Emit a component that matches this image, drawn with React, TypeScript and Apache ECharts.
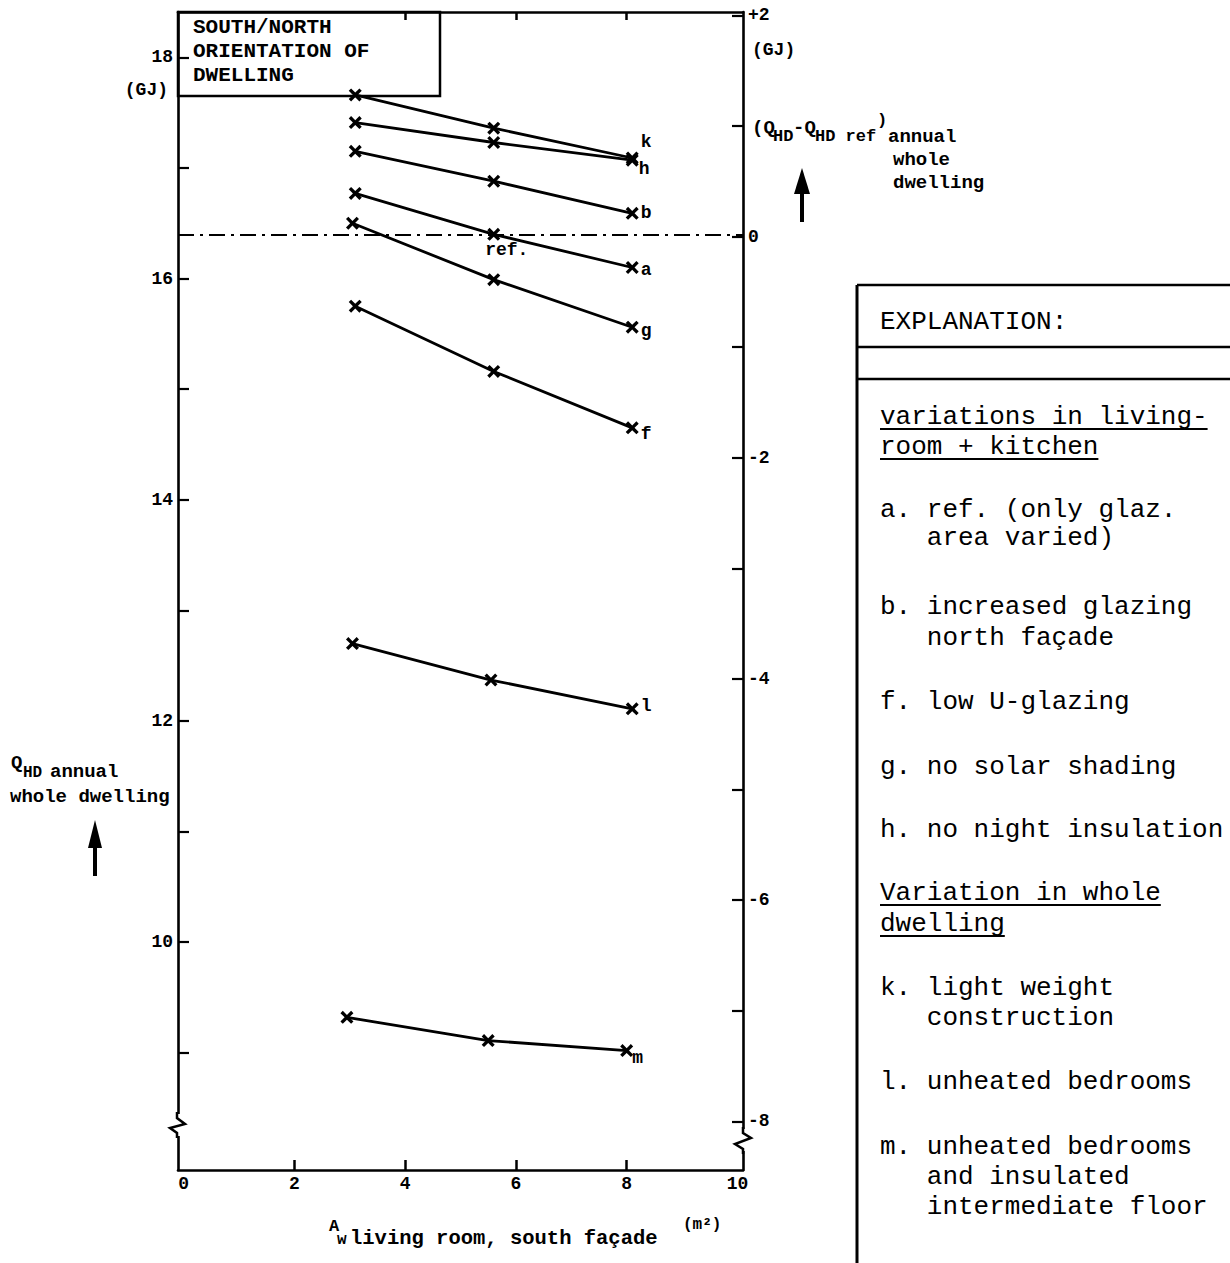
import React, { useEffect, useRef } from 'react';
import * as echarts from 'echarts';

// ---------- data ----------
const X_LABELS = [0, 2, 4, 6, 8, 10];
const X_TOP_TICKS = [4, 6, 8];
const X_BOTTOM_TICKS = [2, 4, 6, 8];
const LEFT_TICKS = [9, 10, 11, 12, 13, 14, 15, 16, 17, 18];
const LEFT_LABELS = [10, 12, 14, 16, 18];
const RIGHT_TICKS = [-8, -7, -6, -5, -4, -3, -2, -1, 0, 1, 2];
const RIGHT_LABELS = [-8, -6, -4, -2, 0, 2];

const AREA_MAIN = [3.1, 5.6, 8.1];
const AREA_G = [3.05, 5.6, 8.1];
const AREA_L = [3.05, 5.55, 8.1];
const AREA_M = [2.95, 5.5, 8.0];

const Q_K = [17.66, 17.36, 17.09];
const Q_H = [17.41, 17.23, 17.07];
const Q_B = [17.15, 16.88, 16.59];
const Q_A = [16.77, 16.4, 16.1];
const Q_G = [16.5, 15.99, 15.56];
const Q_F = [15.75, 15.16, 14.65];
const Q_L = [12.7, 12.37, 12.11];
const Q_M = [9.32, 9.11, 9.02];

const EXPLANATION_LINES = [
  'variations in living-',
  'room + kitchen',
  'a. ref. (only glaz.',
  'area varied)',
  'b. increased glazing',
  'north façade',
  'f. low U-glazing',
  'g. no solar shading',
  'h. no night insulation',
  'Variation in whole',
  'dwelling',
  'k. light weight',
  'construction',
  'l. unheated bedrooms',
  'm. unheated bedrooms',
  'and insulated',
  'intermediate floor',
];

// ---------- styling ----------
const MONO = '"Liberation Mono", "DejaVu Sans Mono", monospace';
const BLACK = '#000';
const CROSS = 'path://M0,1.8L1.8,0L5,3.2L8.2,0L10,1.8L6.8,5L10,8.2L8.2,10L5,6.8L1.8,10L0,8.2L3.2,5Z';

function txt(x: number, y: number, text: string, size: number, weight: string = 'bold', align: string = 'left') {
  return {
    type: 'text',
    x,
    y,
    z: 50,
    silent: true,
    style: {
      text,
      fill: BLACK,
      fontFamily: MONO,
      fontSize: size,
      fontWeight: weight,
      textAlign: align,
      align,
      textVerticalAlign: 'middle',
      verticalAlign: 'middle',
    },
  };
}

function line(x1: number, y1: number, x2: number, y2: number, w = 2.5) {
  return {
    type: 'line',
    z: 50,
    silent: true,
    shape: { x1, y1, x2, y2 },
    style: { stroke: BLACK, lineWidth: w },
  };
}

function arrowUp(cx: number, tip: number, baseY: number, bottom: number, half: number) {
  return [
    line(cx, baseY - 2, cx, bottom, 4),
    {
      type: 'polygon',
      z: 50,
      silent: true,
      shape: { points: [[cx, tip], [cx - half, baseY], [cx + half, baseY]] },
      style: { fill: BLACK },
    },
  ];
}

function makeSeries(
  name: string,
  xs: number[],
  ys: number[],
  offset: number[],
  extra: any = {}
) {
  return {
    name,
    type: 'line',
    yAxisIndex: 0,
    data: xs.map((x, i) => [x, ys[i]]),
    symbol: CROSS,
    symbolSize: 13,
    itemStyle: { color: BLACK },
    lineStyle: { color: BLACK, width: 2.8 },
    z: 5,
    label: {
      show: true,
      position: 'right',
      distance: 2,
      offset,
      color: BLACK,
      fontFamily: MONO,
      fontSize: 18,
      fontWeight: 'bold',
      formatter: (p: any) => (p.dataIndex === xs.length - 1 ? name : ''),
    },
    ...extra,
  };
}

export default function App() {
  const ref = useRef<HTMLDivElement>(null);

  useEffect(() => {
    if (!ref.current) return;
    const chart = echarts.init(ref.current, null, { renderer: 'svg' });

    const axisFont = {
      color: BLACK,
      fontFamily: MONO,
      fontSize: 18,
      fontWeight: 'bold',
    };

    const explanationY = [417, 447, 510, 538, 607, 638, 702, 767, 830, 893, 924, 988, 1018, 1082, 1147, 1177, 1207];
    const indented = new Set([3, 5, 12, 15, 16]);
    const underlined = new Set([0, 1, 9, 10]);
    const charW = 15.6;

    const explanationGraphics: any[] = [];
    EXPLANATION_LINES.forEach((t, i) => {
      const x = indented.has(i) ? 880 + 3 * charW : 880;
      explanationGraphics.push(txt(x, explanationY[i], t, 26, 'normal'));
      if (underlined.has(i)) {
        explanationGraphics.push(line(880, explanationY[i] + 12, 880 + t.length * charW, explanationY[i] + 12, 2));
      }
    });

    const option: any = {
      animation: false,
      backgroundColor: '#fff',
      grid: { left: 178, right: 487, top: 12, bottom: 93, containLabel: false },
      xAxis: [
        {
          type: 'value',
          position: 'bottom',
          min: -0.1,
          max: 10.1,
          axisLine: { show: true, onZero: false, lineStyle: { color: BLACK, width: 2.6 } },
          axisTick: { show: true, inside: true, length: 10, customValues: X_BOTTOM_TICKS, lineStyle: { color: BLACK, width: 2.5 } },
          axisLabel: { ...axisFont, customValues: X_LABELS, margin: 5 },
          splitLine: { show: false },
        },
        {
          type: 'value',
          position: 'top',
          min: -0.1,
          max: 10.1,
          axisLine: { show: true, onZero: false, lineStyle: { color: BLACK, width: 2.6 } },
          axisTick: { show: true, inside: true, length: 8, customValues: X_TOP_TICKS, lineStyle: { color: BLACK, width: 2.5 } },
          axisLabel: { show: false },
          splitLine: { show: false },
        },
      ],
      yAxis: [
        {
          type: 'value',
          position: 'left',
          min: 7.94,
          max: 18.41,
          axisLine: { show: true, onZero: false, lineStyle: { color: BLACK, width: 2.6 } },
          axisTick: { show: true, inside: true, length: 11, customValues: LEFT_TICKS, lineStyle: { color: BLACK, width: 2.2 } },
          axisLabel: { ...axisFont, customValues: LEFT_LABELS, margin: 5 },
          splitLine: { show: false },
        },
        {
          type: 'value',
          position: 'right',
          min: -8.44,
          max: 2.03,
          axisLine: { show: true, onZero: false, lineStyle: { color: BLACK, width: 2.6 } },
          axisTick: { show: true, inside: true, length: 11, customValues: RIGHT_TICKS, lineStyle: { color: BLACK, width: 2.2 } },
          axisLabel: {
            ...axisFont,
            customValues: RIGHT_LABELS,
            margin: 5,
            formatter: (v: number) => (v > 0 ? '+' + v : String(v)),
          },
          splitLine: { show: false },
        },
      ],
      series: [
        makeSeries('k', AREA_MAIN, Q_K, [0, -16]),
        makeSeries('h', AREA_MAIN, Q_H, [-2, 9]),
        makeSeries('b', AREA_MAIN, Q_B, [0, 0]),
        {
          ...makeSeries('a', AREA_MAIN, Q_A, [0, 3]),
          data: AREA_MAIN.map((x, i) =>
            i === 1
              ? {
                  value: [x, Q_A[i]],
                  label: {
                    show: true,
                    position: 'bottom',
                    distance: 2,
                    offset: [13, -2],
                    formatter: 'ref.',
                    color: BLACK,
                    fontFamily: MONO,
                    fontSize: 18,
                    fontWeight: 'bold',
                  },
                }
              : [x, Q_A[i]]
          ),
          markLine: {
            silent: true,
            symbol: 'none',
            z: 1,
            label: { show: false },
            lineStyle: { color: BLACK, width: 2, type: [16, 6, 3, 6] },
            data: [{ yAxis: Q_A[1] }],
          },
        },
        makeSeries('g', AREA_G, Q_G, [0, 4]),
        makeSeries('f', AREA_MAIN, Q_F, [0, 6]),
        makeSeries('l', AREA_L, Q_L, [0, -3]),
        makeSeries('m', AREA_M, Q_M, [-3, 7]),
      ],
      graphic: [
        // orientation box
        {
          type: 'rect',
          z: 40,
          silent: true,
          shape: { x: 178, y: 12, width: 262, height: 84 },
          style: { fill: 'none', stroke: BLACK, lineWidth: 2.5 },
        },
        txt(193, 27, 'SOUTH/NORTH', 21),
        txt(193, 51, 'ORIENTATION OF', 21),
        txt(193, 75, 'DWELLING', 21),
        // left units
        txt(168, 90, '(GJ)', 18, 'bold', 'right'),
        // right units
        txt(752, 50, '(GJ)', 18),
        txt(752, 128, '(Q', 19),
        txt(773, 136, 'HD', 17),
        txt(793, 128, '-Q', 19),
        txt(815, 136, 'HD ref', 17),
        txt(877, 120, ')', 17),
        txt(888, 137, 'annual', 19),
        txt(893, 160, 'whole', 19),
        txt(893, 183, 'dwelling', 19),
        ...arrowUp(802, 168, 194, 222, 8),
        // left title
        txt(11, 763, 'Q', 19),
        txt(23, 773, 'HD', 16),
        txt(50, 772, 'annual', 19),
        txt(10, 797, 'whole dwelling', 19),
        ...arrowUp(95, 820, 848, 876, 7),
        // x title
        txt(329, 1226, 'A', 17),
        txt(337, 1240, 'w', 16),
        txt(350, 1238, 'living room, south façade', 20.5, 'bold'),
        txt(683, 1225, '(m²)', 16),
        // axis breaks
        { type: 'rect', z: 45, silent: true, shape: { x: 172, y: 1114, width: 12, height: 22 }, style: { fill: '#fff' } },
        {
          type: 'polyline',
          z: 50,
          silent: true,
          shape: { points: [[177, 1112], [177, 1118], [185, 1124], [170, 1128], [177, 1133], [177, 1138]] },
          style: { stroke: BLACK, lineWidth: 2.5, fill: 'none' },
        },
        { type: 'rect', z: 45, silent: true, shape: { x: 737, y: 1129, width: 12, height: 22 }, style: { fill: '#fff' } },
        {
          type: 'polyline',
          z: 50,
          silent: true,
          shape: { points: [[743, 1127], [743, 1133], [751, 1138], [735, 1144], [743, 1149], [743, 1154]] },
          style: { stroke: BLACK, lineWidth: 2.5, fill: 'none' },
        },
        // explanation box
        line(857, 285, 1230, 285, 2.5),
        line(857, 347, 1230, 347, 2.5),
        line(857, 379, 1230, 379, 2.5),
        line(857, 285, 857, 1263, 3),
        txt(880, 322, 'EXPLANATION:', 26, 'normal'),
        ...explanationGraphics,
      ],
    };

    chart.setOption(option);
    return () => chart.dispose();
  }, []);

  return (
    <div
      ref={ref}
      style={{ position: 'fixed', left: 0, top: 0, width: 1230, height: 1263, background: '#fff' }}
    />
  );
}
